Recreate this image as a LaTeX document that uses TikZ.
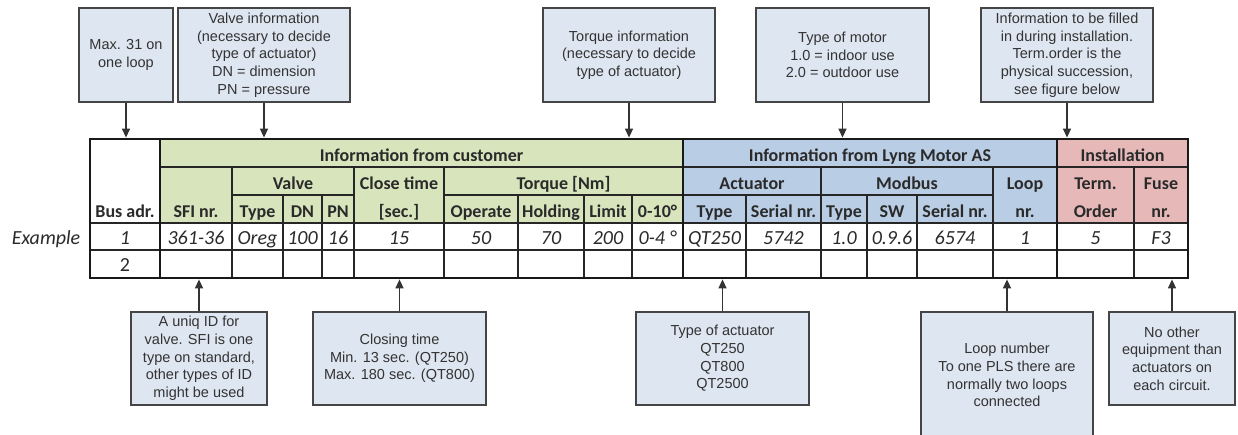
\documentclass[tikz,border=0pt]{standalone}
\usepackage{fontspec}
\setmainfont{Carlito}
\newfontfamily\arialf{Liberation Sans}
\usetikzlibrary{arrows.meta}
\definecolor{hgreen}{HTML}{D7E4BC}
\definecolor{hblue}{HTML}{B9CDE5}
\definecolor{hred}{HTML}{E6B9B8}
\definecolor{cfill}{HTML}{DEE6F1}
\definecolor{cline}{HTML}{454545}
\definecolor{htext}{HTML}{2A2A2A}
\tikzset{
  callout/.style={draw=cline, line width=1.3pt, fill=cfill, inner sep=0pt, align=center,
    text=black!80, font=\arialf\fontsize{14.5}{17.7}\selectfont},
  hd/.style={anchor=base, inner sep=0pt, text=htext, font=\bfseries\fontsize{18}{20}\selectfont},
  dt/.style={anchor=base, inner sep=0pt, text=htext, font=\itshape\fontsize{20}{22}\selectfont},
  up/.style={anchor=base, inner sep=0pt, text=htext, font=\fontsize{20}{22}\selectfont},
  grid/.style={draw=black!85, line width=1.2pt},
  sep/.style={draw=black!90, line width=2pt},
  frame/.style={draw=black!90, line width=2.8pt, inner sep=0pt},
  arr/.style={draw=black!80, line width=1.4pt, -{Triangle[length=9pt,width=8pt]}}
}
\begin{document}
\begin{tikzpicture}[x=1pt,y=-1pt]
\clip (0,0) rectangle (1238,435);
\fill[white] (0,0) rectangle (1238,435);
% header fills
\fill[hgreen] (160,139) rectangle (683,223);
\fill[hblue] (683,139) rectangle (1057,223);
\fill[hred] (1057,139) rectangle (1188,223);
% horizontal lines
\draw[grid] (160,167) -- (1188,167);
\draw[grid] (232,195) -- (354,195);
\draw[grid] (444,195) -- (993,195);
\draw[grid] (90,223) -- (1188,223);
\draw[grid] (90,250) -- (1188,250);
% vertical lines
\foreach \x in {232,354,444,821,993,1134} \draw[grid] (\x,167) -- (\x,278);
\foreach \x in {283,322,518,584,632,746,867,917} \draw[grid] (\x,195) -- (\x,278);
\foreach \x in {160,683,1057} \draw[sep] (\x,139) -- (\x,278);
% frame
\node[frame, minimum width=1098pt, minimum height=139pt] (tbl) at (639,208.5) {};
% header row 1
\node[hd] (g1) at (421.5,162) {Information from customer};
\node[hd] (g2) at (870,162) {Information from Lyng Motor AS};
\node[hd] (g3) at (1122.5,162) {Installation};
% header row 2
\node[hd] (valve) at (293,190) {Valve};
\node[hd] (torque) at (563.5,190) {Torque [Nm]};
\node[hd] (actu) at (752,190) {Actuator};
\node[hd] (modbus) at (907,190) {Modbus};
\node[hd] (close1) at (399,190) {Close time};
\node[hd] (close2) at (399,218) {[sec.]};
\node[hd] (loop1) at (1025,190) {Loop};
\node[hd] (loop2) at (1025,218) {nr.};
\node[hd] (term1) at (1095.5,190) {Term.};
\node[hd] (term2) at (1095.5,218) {Order};
\node[hd] (fuse1) at (1161,190) {Fuse};
\node[hd] (fuse2) at (1161,218) {nr.};
% header row 3
\node[hd] (busadr) at (125,218) {Bus adr.};
\node[hd] (sfi) at (196,218) {SFI nr.};
\node[hd] (vtype) at (257.5,218) {Type};
\node[hd] (dn) at (302.5,218) {DN};
\node[hd] (pn) at (338,218) {PN};
\node[hd] (oper) at (481,218) {Operate};
\node[hd] (hold) at (551,218) {Holding};
\node[hd] (limit) at (608,218) {Limit};
\node[hd] (deg) at (657.5,218) {0-10°};
\node[hd] (atype) at (714.5,218) {Type};
\node[hd] (aser) at (783.5,218) {Serial nr.};
\node[hd] (mtype) at (844,218) {Type};
\node[hd] (msw) at (892,218) {SW};
\node[hd] (mser) at (955,218) {Serial nr.};
% example row
\node[dt] (ex) at (46,245) {Example};
\node[dt] (e1) at (125,245) {1};
\node[dt] (e2) at (196,245) {361-36};
\node[dt] (e3) at (257.5,245) {Oreg};
\node[dt] (e4) at (302.5,245) {100};
\node[dt] (e5) at (338,245) {16};
\node[dt] (e6) at (399,245) {15};
\node[dt] (e7) at (481,245) {50};
\node[dt] (e8) at (551,245) {70};
\node[dt] (e9) at (608,245) {200};
\node[dt] (e10) at (657.5,245) {0-4 °};
\node[dt] (e11) at (714.5,245) {QT250};
\node[dt] (e12) at (783.5,245) {5742};
\node[dt] (e13) at (844,245) {1.0};
\node[dt] (e14) at (892,245) {0.9.6};
\node[dt] (e15) at (955,245) {6574};
\node[dt] (e16) at (1025,245) {1};
\node[dt] (e17) at (1095.5,245) {5};
\node[dt] (e18) at (1161,245) {F3};
\node[up] (r2) at (125,272) {2};
% top callouts
\node[callout, minimum width=94pt, minimum height=94pt] (t1) at (126,55) {Max. 31 on\\one loop};
\node[callout, minimum width=172pt, minimum height=94pt] (t2) at (264,55) {Valve information\\(necessary to decide\\type of actuator)\\DN = dimension\\PN = pressure};
\node[callout, minimum width=172pt, minimum height=94pt] (t3) at (629,55) {Torque information\\(necessary to decide\\type of actuator)};
\node[callout, minimum width=173pt, minimum height=94pt] (t4) at (842.5,55) {Type of motor\\1.0 = indoor use\\2.0 = outdoor use};
\node[callout, minimum width=172pt, minimum height=94pt] (t5) at (1067,55) {Information to be filled\\in during installation.\\Term.order is the\\physical succession,\\see figure below};
% bottom callouts
\node[callout, minimum width=136pt, minimum height=93pt] (b1) at (199,358.5) {A uniq ID for\\valve. SFI is one\\type on standard,\\other types of ID\\might be used};
\node[callout, minimum width=173pt, minimum height=93pt] (b2) at (399.5,358.5) {Closing time\\Min. 13 sec. (QT250)\\Max. 180 sec. (QT800)};
\node[callout, minimum width=173pt, minimum height=93pt] (b3) at (722.5,358.5) {Type of actuator\\QT250\\QT800\\QT2500};
\node[callout, minimum width=172pt, minimum height=126pt] (b4) at (1007,375) {Loop number\\To one PLS there are\\normally two loops\\connected};
\node[callout, minimum width=126pt, minimum height=93pt] (b5) at (1172,358.5) {No other\\equipment than\\actuators on\\each circuit.};
% connectors
\foreach \n in {t1,t2,t3,t4,t5} \draw[arr] (\n.south) -- (\n.south |- tbl.north);
\foreach \n in {b1,b2,b3,b4,b5} \draw[arr] (\n.north) -- (\n.north |- tbl.south);
\end{tikzpicture}
\end{document}
